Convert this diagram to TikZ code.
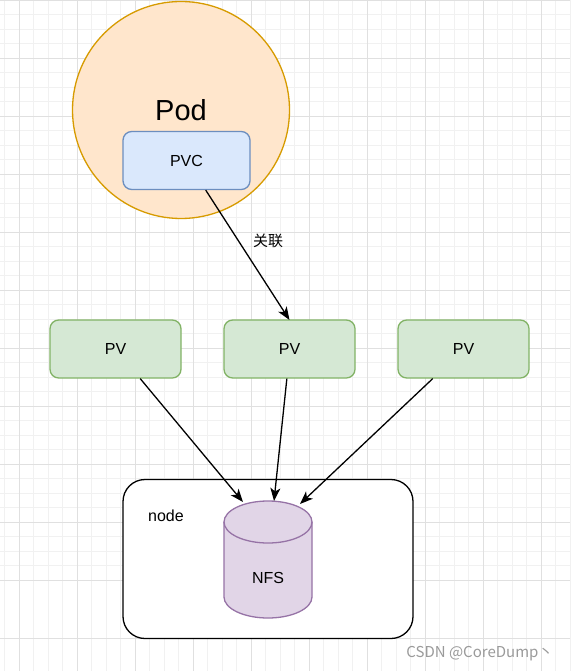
\documentclass[tikz,border=0pt]{standalone}
\usepackage{fontspec}
\setmainfont{Liberation Sans}
\newfontfamily\cjk{Noto Sans CJK SC}
\usetikzlibrary{arrows.meta,calc}
\definecolor{gridminor}{HTML}{F1F1F1}
\definecolor{gridmajor}{HTML}{E0E0E0}
\definecolor{podfill}{HTML}{FFE6CC}
\definecolor{podline}{HTML}{D79B00}
\definecolor{pvcfill}{HTML}{DAE8FC}
\definecolor{pvcline}{HTML}{6C8EBF}
\definecolor{pvfill}{HTML}{D5E8D4}
\definecolor{pvline}{HTML}{82B366}
\definecolor{nfsfill}{HTML}{E1D5E7}
\definecolor{nfsline}{HTML}{9673A6}
\definecolor{wmark}{HTML}{9A9A9A}
\tikzset{
  pvbox/.style={draw=pvline, fill=pvfill, line width=1.3pt, rounded corners=8.7pt,
    minimum width=131pt, minimum height=58pt, inner sep=0pt, font=\fontsize{16}{19}\selectfont},
  pvcbox/.style={draw=pvcline, fill=pvcfill, line width=1.3pt, rounded corners=8.7pt,
    minimum width=127pt, minimum height=58pt, inner sep=0pt, font=\fontsize{16}{19}\selectfont},
  conn/.style={draw=black, line width=1.3pt, -{Stealth[length=13pt, width=10pt, inset=3.5pt]}},
}
\begin{document}
\begin{tikzpicture}[x=1pt, y=-1pt]
\useasboundingbox (0,0) rectangle (570,671);
\fill[white] (0,0) rectangle (570,671);
% grid
\foreach \i in {0,...,39} {
  \draw[gridminor, line width=0.8pt] ({4.8+14.5*\i},0) -- ({4.8+14.5*\i},671);
  \draw[gridminor, line width=0.8pt] (0,{0.3+14.5*\i}) -- (570,{0.3+14.5*\i});
}
\foreach \i in {0,...,11} {
  \draw[gridmajor, line width=0.8pt] ({19.3+58*\i},0) -- ({19.3+58*\i},671);
  \draw[gridmajor, line width=0.8pt] (0,{0.3+58*\i}) -- (570,{0.3+58*\i});
}
% Pod
\node[circle, draw=podline, fill=podfill, line width=1.3pt, minimum size=217pt, inner sep=0pt] (pod) at (181,110) {};
\node[font=\fontsize{29}{33}\selectfont] (podlabel) at (181,110) {Pod};
% PVC
\node[pvcbox] (pvc) at (186.5,160.5) {PVC};
% PVs
\node[pvbox] (pv1) at (115.5,349) {PV};
\node[pvbox] (pv2) at (289.5,349) {PV};
\node[pvbox] (pv3) at (463.5,349) {PV};
% node box
\node[draw=black, fill=white, line width=1.3pt, rounded corners=22pt, minimum width=290pt, minimum height=159pt, inner sep=0pt] (host) at (268,559) {};
\node[font=\fontsize{16}{19}\selectfont] (hostlabel) at (166,516) {node};
% cylinder
\fill[nfsfill] (224,522) -- (224,597) arc[start angle=180, end angle=0, x radius=44, y radius=21] -- (312,522) arc[start angle=0, end angle=-180, x radius=44, y radius=21] -- cycle;
\draw[nfsline, line width=1.3pt] (224,522) -- (224,597) arc[start angle=180, end angle=0, x radius=44, y radius=21] -- (312,522);
\draw[nfsline, line width=1.3pt] (268,522) ellipse[x radius=44, y radius=21];
\node[inner sep=0pt, minimum width=88pt, minimum height=117pt] (nfs) at (268,559.5) {};
\node[font=\fontsize{16}{19}\selectfont] (nfslabel) at (268,578) {NFS};
% connectors
\coordinate (t1) at (243,502);
\coordinate (t2) at (274,501);
\coordinate (t3) at (300,504);
\coordinate (t0) at (289.5,320);
\draw[conn] ($(pvc.south west)!0.65!(pvc.south east)$) -- (t0);
\node[font=\cjk\fontsize{15}{18}\selectfont] (rel) at (268,240.5) {关联};
\draw[conn] ($(pv1.south west)!0.687!(pv1.south east)$) -- (t1);
\draw[conn] ($(pv2.south west)!0.48!(pv2.south east)$) -- (t2);
\draw[conn] ($(pv3.south west)!0.267!(pv3.south east)$) -- (t3);
% watermark
\node[text=wmark, font=\cjk\fontsize{15}{18}\selectfont, anchor=east] (wm) at (557,653.5) {CSDN @CoreDump丶};
\end{tikzpicture}
\end{document}
